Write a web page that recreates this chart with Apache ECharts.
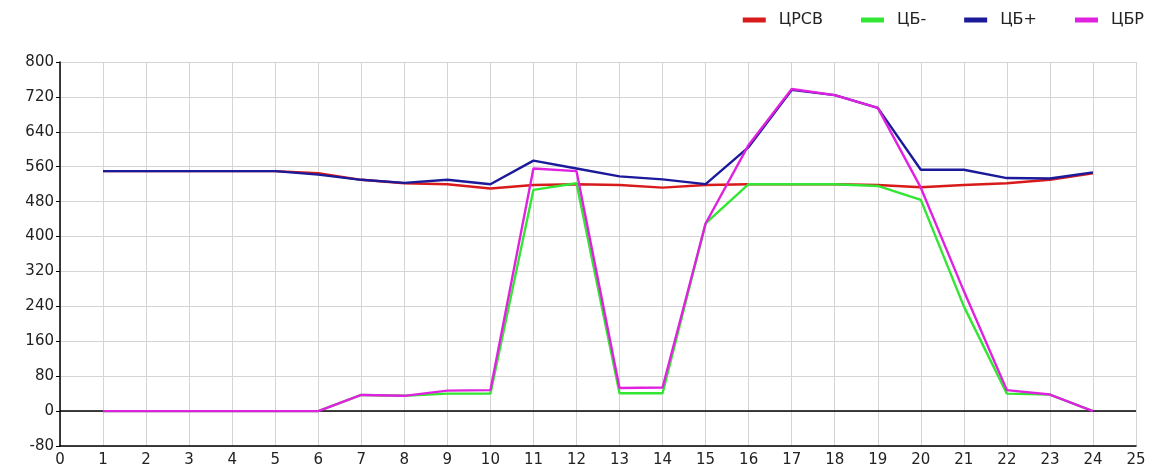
<!DOCTYPE html>
<html><head><meta charset="utf-8">
<script src="https://cdn.jsdelivr.net/npm/echarts@6/dist/echarts.min.js"></script>
<style>html,body{margin:0;padding:0;background:#fff}#c{width:1163px;height:476px}</style>
</head><body><div id="c"></div>
<script>
var hours = [1,2,3,4,5,6,7,8,9,10,11,12,13,14,15,16,17,18,19,20,21,22,23,24];
var seriesNames = ['ЦРСВ','ЦБ-','ЦБ+','ЦБР'];
var tsrsv = [550,550,550,550,550,545,530,522,520,510,518,520,518,512,518,520,520,520,518,513,518,522,530,545];
var cbMinus = [0,0,0,0,0,0,37,35,40,40,507,522,41,41,430,520,520,520,516,484,240,40,38,0];
var cbPlus = [550,550,550,550,550,542,530,523,530,520,574,556,538,531,520,605,736,724,695,553,553,534,533,547];
var cbr = [0,0,0,0,0,0,37,35,47,48,556,550,53,54,430,610,738,724,695,512,275,48,38,0];
var colors = ['#d81a1a','#33e633','#1a1a9a','#e022e0'];

function pairs(vals){ return hours.map(function(h,i){ return [h, vals[i]]; }); }
var all = [tsrsv, cbMinus, cbPlus, cbr];
var series = all.map(function(v,i){
  return {name: seriesNames[i], type:'line', data: pairs(v), symbol:'none',
    lineStyle:{width:2.4, color: colors[i]}, itemStyle:{color: colors[i]}, z: 3+i};
});
series.push({type:'line', data:[], silent:true, z:2,
  markLine:{silent:true, symbol:['none','none'], label:{show:false},
    lineStyle:{color:'#000', width:1.5, type:'solid'}, data:[{yAxis:0}]}});

var chart = echarts.init(document.getElementById('c'), null, {renderer:'canvas'});
chart.setOption({
  animation:false,
  legend:{data: seriesNames, right: 14, top: 7, icon:'rect', itemWidth:23, itemHeight:5, itemGap:38,
    textStyle:{fontFamily:'DejaVu Sans', fontSize:16, color:'#222', padding:[0,0,0,8]}},
  grid:{left:60, right:27, top:62, bottom:30},
  xAxis:{type:'value', min:0, max:25, interval:1,
    axisLine:{onZero:false, lineStyle:{color:'#000', width:1.5}},
    axisTick:{show:false},
    axisLabel:{color:'#222', fontFamily:'DejaVu Sans', fontSize:15, margin:7},
    splitLine:{show:true, lineStyle:{color:'#d4d4d4', width:1}}},
  yAxis:{type:'value', min:-80, max:800, interval:80,
    axisLine:{show:true, lineStyle:{color:'#000', width:1.5}},
    axisTick:{show:true, length:4, lineStyle:{color:'#000'}},
    axisLabel:{color:'#222', fontFamily:'DejaVu Sans', fontSize:15, margin:6},
    splitLine:{show:true, lineStyle:{color:'#d4d4d4', width:1}}},
  series: series
});
</script></body></html>
